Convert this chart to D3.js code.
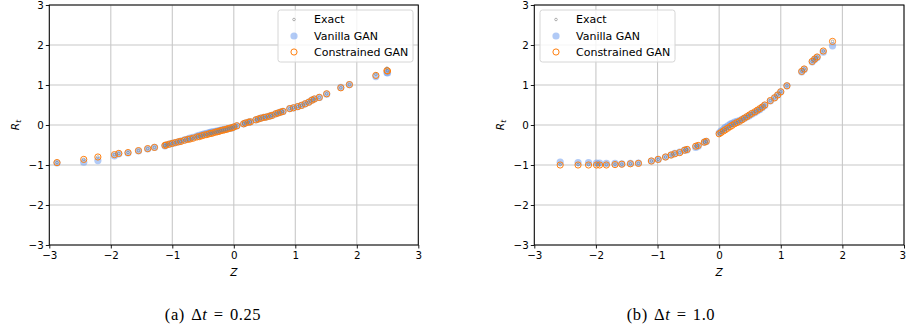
<!DOCTYPE html>
<html>
<head>
<meta charset="utf-8">
<script src="https://cdn.jsdelivr.net/npm/d3@7"></script>
<style>
  html, body { margin: 0; padding: 0; background: #fff; }
  svg { display: block; }
  .tick text { font-family: "DejaVu Sans", sans-serif; font-size: 10.3px; fill: #000; }
</style>
</head>
<body>
<svg id="chart" width="906" height="326"></svg>
<script>
// Panel (a): Δt = 0.25 — standard normal draw Z against return R_t
const zA = [-2.875, -2.44, -2.21, -1.94, -1.87, -1.72, -1.55, -1.40, -1.29, -1.12,
  -1.10, -1.05, -1.00, -0.95, -0.90, -0.86, -0.80, -0.75, -0.71, -0.66,
  -0.60, -0.56, -0.52, -0.48, -0.44, -0.40, -0.37, -0.34, -0.30, -0.27,
  -0.24, -0.21, -0.18, -0.15, -0.12, -0.09, -0.06, -0.03, 0.00, 0.05,
  0.16, 0.19, 0.24, 0.27, 0.36, 0.40, 0.44, 0.49, 0.53, 0.58,
  0.62, 0.68, 0.72, 0.76, 0.80, 0.91, 0.97, 1.04, 1.10, 1.16,
  1.22, 1.27, 1.31, 1.39, 1.51, 1.74, 1.88, 2.31, 2.49, 2.50];
const exactA = [-0.94, -0.86, -0.80, -0.74, -0.71, -0.69, -0.64, -0.59, -0.56, -0.51,
  -0.50, -0.48, -0.46, -0.44, -0.42, -0.41, -0.38, -0.36, -0.35, -0.33,
  -0.30, -0.29, -0.27, -0.25, -0.24, -0.22, -0.21, -0.20, -0.18, -0.17,
  -0.16, -0.14, -0.13, -0.12, -0.11, -0.09, -0.08, -0.07, -0.05, -0.02,
  0.03, 0.05, 0.07, 0.08, 0.13, 0.15, 0.17, 0.19, 0.20, 0.22,
  0.24, 0.28, 0.30, 0.32, 0.34, 0.41, 0.43, 0.46, 0.49, 0.53,
  0.57, 0.62, 0.65, 0.69, 0.78, 0.93, 1.01, 1.27, 1.42, 1.36];
const vanillaA = [-0.95, -0.93, -0.89, -0.77, -0.72, -0.70, -0.65, -0.60, -0.56, -0.52,
  -0.50, -0.48, -0.46, -0.44, -0.42, -0.40, -0.37, -0.35, -0.33, -0.31,
  -0.28, -0.26, -0.24, -0.22, -0.21, -0.19, -0.18, -0.17, -0.16, -0.15,
  -0.14, -0.13, -0.12, -0.11, -0.10, -0.09, -0.08, -0.07, -0.05, -0.02,
  0.03, 0.05, 0.07, 0.08, 0.13, 0.15, 0.17, 0.19, 0.20, 0.22,
  0.24, 0.28, 0.30, 0.32, 0.34, 0.41, 0.43, 0.46, 0.49, 0.53,
  0.57, 0.62, 0.65, 0.69, 0.77, 0.94, 1.01, 1.21, 1.31, 1.30];
const constrainedA = [-0.94, -0.86, -0.80, -0.74, -0.71, -0.69, -0.64, -0.59, -0.56, -0.51,
  -0.50, -0.48, -0.46, -0.44, -0.42, -0.41, -0.38, -0.36, -0.35, -0.33,
  -0.30, -0.29, -0.27, -0.25, -0.24, -0.22, -0.21, -0.20, -0.18, -0.17,
  -0.16, -0.14, -0.13, -0.12, -0.11, -0.09, -0.08, -0.07, -0.05, -0.02,
  0.03, 0.05, 0.07, 0.08, 0.13, 0.15, 0.17, 0.19, 0.20, 0.22,
  0.24, 0.28, 0.30, 0.32, 0.34, 0.41, 0.43, 0.46, 0.49, 0.53,
  0.57, 0.62, 0.65, 0.69, 0.78, 0.93, 1.01, 1.24, 1.36, 1.35];

// Panel (b): Δt = 1.0
const zB = [-2.58, -2.29, -2.12, -1.99, -1.94, -1.83, -1.69, -1.58, -1.44, -1.31,
  -1.10, -0.99, -0.87, -0.78, -0.72, -0.64, -0.56, -0.52, -0.38, -0.34,
  -0.24, -0.21, 0.00, 0.03, 0.07, 0.10, 0.14, 0.18, 0.21, 0.25,
  0.29, 0.33, 0.37, 0.41, 0.45, 0.49, 0.53, 0.58, 0.62, 0.66,
  0.70, 0.74, 0.83, 0.90, 0.95, 1.00, 1.10, 1.34, 1.38, 1.51,
  1.55, 1.59, 1.69, 1.84];
const exactB = [-0.99, -0.99, -0.99, -0.99, -0.99, -0.99, -0.98, -0.98, -0.97, -0.96,
  -0.90, -0.86, -0.80, -0.75, -0.72, -0.69, -0.63, -0.61, -0.53, -0.51,
  -0.43, -0.41, -0.22, -0.19, -0.15, -0.12, -0.08, -0.04, -0.01, 0.03,
  0.06, 0.09, 0.13, 0.17, 0.21, 0.25, 0.29, 0.33, 0.37, 0.41,
  0.45, 0.50, 0.61, 0.68, 0.75, 0.83, 0.98, 1.34, 1.40, 1.59,
  1.65, 1.70, 1.85, 2.09];
const vanillaB = [-0.93, -0.94, -0.94, -0.95, -0.95, -0.96, -0.96, -0.97, -0.96, -0.95,
  -0.90, -0.86, -0.80, -0.75, -0.71, -0.68, -0.63, -0.62, -0.56, -0.53,
  -0.43, -0.41, -0.20, -0.15, -0.10, -0.06, -0.02, 0.02, 0.04, 0.07,
  0.09, 0.11, 0.14, 0.17, 0.20, 0.23, 0.27, 0.31, 0.35, 0.39,
  0.44, 0.49, 0.60, 0.68, 0.75, 0.83, 0.98, 1.33, 1.39, 1.58,
  1.64, 1.69, 1.82, 1.98];
const constrainedB = [-1.00, -1.00, -1.00, -1.00, -1.00, -1.00, -0.99, -0.98, -0.97, -0.96,
  -0.90, -0.86, -0.80, -0.75, -0.72, -0.69, -0.63, -0.61, -0.53, -0.51,
  -0.43, -0.41, -0.22, -0.19, -0.15, -0.12, -0.08, -0.04, -0.01, 0.03,
  0.06, 0.09, 0.13, 0.17, 0.21, 0.25, 0.29, 0.33, 0.37, 0.41,
  0.45, 0.50, 0.61, 0.68, 0.75, 0.83, 0.98, 1.34, 1.40, 1.59,
  1.65, 1.70, 1.85, 2.09];

const axisTicks = [-3, -2, -1, 0, 1, 2, 3];
const seriesNames = ["Exact", "Vanilla GAN", "Constrained GAN"];
const captions = [["(a) ", "0.25"], ["(b) ", "1.0"]];

const svg = d3.select("#chart");
const fmt = d3.format("d");

const panels = [
  { z: zA, exact: exactA, vanilla: vanillaA, constrained: constrainedA,
    x0: 49.3, x1: 418.3, legendX: 278, caption: captions[0], capX: 213 },
  { z: zB, exact: exactB, vanilla: vanillaB, constrained: constrainedB,
    x0: 534.3, x1: 904, legendX: 540, caption: captions[1], capX: 671 }
];

const plotTop = 5, plotBottom = 245;
const vanillaColor = "rgba(100,149,237,0.5)";
const orange = "#ff7f0e";
const grey = "#7f7f7f";

panels.forEach((p, pi) => {
  const x = d3.scaleLinear().domain([-3, 3]).range([p.x0, p.x1]);
  const y = d3.scaleLinear().domain([-3, 3]).range([plotBottom, plotTop]);
  const g = svg.append("g");

  // grid
  g.append("g").selectAll("line").data(axisTicks).join("line")
    .attr("x1", d => x(d)).attr("x2", d => x(d))
    .attr("y1", plotTop).attr("y2", plotBottom)
    .attr("stroke", "#c8c8c8").attr("stroke-width", 1.1);
  g.append("g").selectAll("line").data(axisTicks).join("line")
    .attr("y1", d => y(d)).attr("y2", d => y(d))
    .attr("x1", p.x0).attr("x2", p.x1)
    .attr("stroke", "#c8c8c8").attr("stroke-width", 1.1);

  const pts = p.z.map((z, i) => ({ z, e: p.exact[i], v: p.vanilla[i], c: p.constrained[i] }));

  g.append("g").selectAll("circle").data(pts).join("circle")
    .attr("cx", d => x(d.z)).attr("cy", d => y(d.v)).attr("r", 3.6)
    .attr("fill", vanillaColor);
  g.append("g").selectAll("circle").data(pts).join("circle")
    .attr("cx", d => x(d.z)).attr("cy", d => y(d.c)).attr("r", 3.1)
    .attr("fill", "none").attr("stroke", orange).attr("stroke-width", 1);
  g.append("g").selectAll("circle").data(pts).join("circle")
    .attr("cx", d => x(d.z)).attr("cy", d => y(d.e)).attr("r", 1.3)
    .attr("fill", "none").attr("stroke", grey).attr("stroke-width", 0.6);

  // axes
  const xa = g.append("g").attr("transform", `translate(0,${plotBottom})`)
    .call(d3.axisBottom(x).tickValues(axisTicks).tickFormat(fmt).tickSize(3.5).tickPadding(3.5).tickSizeOuter(0));
  const ya = g.append("g").attr("transform", `translate(${p.x0},0)`)
    .call(d3.axisLeft(y).tickValues(axisTicks).tickFormat(fmt).tickSize(3.5).tickPadding(2).tickSizeOuter(0));
  [xa, ya].forEach(a => {
    a.select(".domain").remove();
    a.selectAll(".tick line").attr("stroke", "#000").attr("stroke-width", 0.9);
  });
  ya.selectAll(".tick text").attr("dy", "0.36em");
  if (pi === 1) {
    // keep the last label inside the page edge
    xa.selectAll(".tick text").filter(d => d === 3).attr("dx", -1.8);
  }

  // frame
  g.append("rect").attr("x", p.x0).attr("y", plotTop)
    .attr("width", p.x1 - p.x0).attr("height", plotBottom - plotTop)
    .attr("fill", "none").attr("stroke", "#000").attr("stroke-width", 1);

  // axis titles
  g.append("text").attr("x", x(0)).attr("y", 275.5)
    .attr("text-anchor", "middle")
    .attr("font-family", "DejaVu Sans").attr("font-style", "italic").attr("font-size", 10.5)
    .text("Z");
  const yl = g.append("text")
    .attr("transform", `translate(${p.x0 - 30},125) rotate(-90)`)
    .attr("text-anchor", "middle")
    .attr("font-family", "DejaVu Sans").attr("font-style", "italic").attr("font-size", 10.5);
  yl.append("tspan").text("R");
  yl.append("tspan").attr("font-size", 7.5).attr("dy", 2).text("t");

  // legend
  const lg = g.append("g").attr("transform", `translate(${p.legendX},10)`);
  lg.append("rect").attr("width", 135).attr("height", 52).attr("rx", 2.5)
    .attr("fill", "rgba(255,255,255,0.8)").attr("stroke", "#d6d6d6").attr("stroke-width", 1);
  const rows = [9.5, 26, 42];
  const mx = 16;
  lg.append("circle").attr("cx", mx).attr("cy", rows[0]).attr("r", 1.3)
    .attr("fill", "none").attr("stroke", grey).attr("stroke-width", 0.6);
  lg.append("circle").attr("cx", mx).attr("cy", rows[1]).attr("r", 3.6).attr("fill", vanillaColor);
  lg.append("circle").attr("cx", mx).attr("cy", rows[2]).attr("r", 3.1)
    .attr("fill", "none").attr("stroke", orange).attr("stroke-width", 1);
  seriesNames.forEach((s, i) => {
    lg.append("text").attr("x", 36).attr("y", rows[i]).attr("dy", "0.36em")
      .attr("font-family", "DejaVu Sans").attr("font-size", 11).attr("fill", "#000")
      .text(s);
  });

  // caption
  const cap = svg.append("text").attr("x", p.capX).attr("y", 319.5)
    .attr("text-anchor", "middle")
    .attr("font-family", "Liberation Serif, serif").attr("font-size", 16.5)
    .attr("letter-spacing", 0.6).attr("word-spacing", 1.5);
  cap.append("tspan").text(p.caption[0] + "\u0394");
  cap.append("tspan").attr("font-style", "italic").text("t");
  cap.append("tspan").text(" = " + p.caption[1]);
});
</script>
</body>
</html>
